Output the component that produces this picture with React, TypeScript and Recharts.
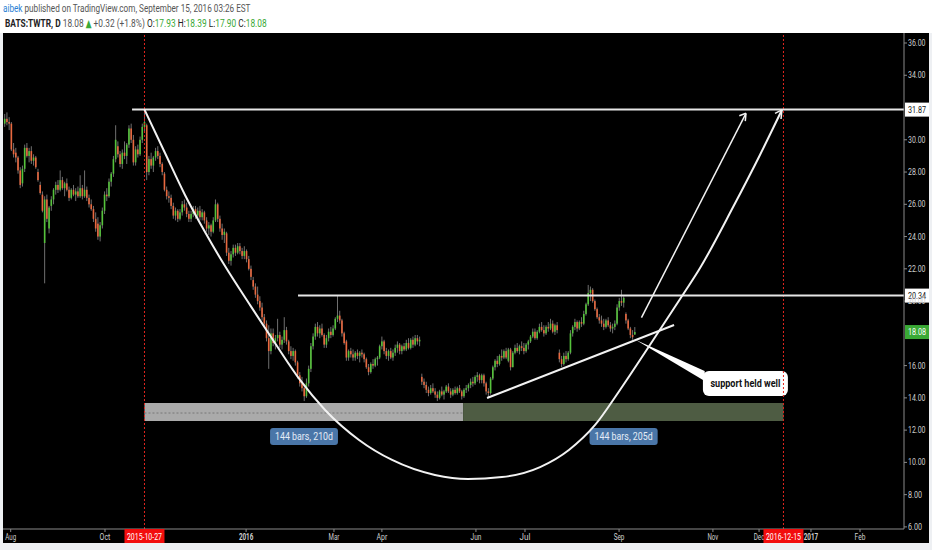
import React, { useLayoutEffect, useRef, useState } from "react";
import {
  ComposedChart,
  Bar,
  Line,
  Area,
  XAxis,
  YAxis,
  ReferenceLine,
  ReferenceArea,
  ReferenceDot,
  Label,
} from "recharts";

const FONT = "Roboto, 'DejaVu Sans Condensed', sans-serif";
const UP = "#55c23b";
const DOWN = "#e8683f";
const WICK = "#8c8c8c";
const GREEN = "#3aa935";

// daily candles, [open, high, low, close]
const jul2015 = [
  [31.0, 31.6, 30.8, 31.3], [31.3, 31.7, 30.9, 31.1], [31.1, 31.4, 30.6, 31.0],
];
const aug2015 = [
  [31.0, 31.1, 29.3, 29.4], [29.4, 29.8, 28.9, 29.1], [29.2, 29.5, 28.6, 28.9], [28.9, 29.0, 27.9, 28.1],
  [28.1, 28.3, 27.0, 27.2], [27.3, 28.4, 27.1, 28.2], [28.2, 29.7, 28.0, 29.5], [29.5, 29.8, 28.9, 29.0],
  [29.0, 29.5, 28.6, 29.3], [29.3, 29.6, 28.5, 28.7], [28.7, 29.1, 28.4, 28.9], [28.9, 29.0, 28.2, 28.3],
  [28.0, 28.2, 27.4, 27.5], [27.2, 27.4, 26.6, 26.7], [26.6, 26.8, 25.5, 25.6], [23.6, 26.5, 21.1, 26.3],
  [26.3, 26.6, 24.9, 25.1], [24.5, 25.9, 24.2, 25.8], [25.9, 26.5, 25.6, 26.3], [26.3, 27.0, 26.0, 26.9],
  [26.9, 27.4, 26.6, 27.2],
];
const sep2015 = [
  [27.2, 27.5, 26.7, 26.9], [26.9, 28.1, 26.8, 27.5], [27.5, 27.7, 26.9, 27.0], [27.0, 27.4, 26.5, 27.3],
  [27.3, 27.6, 26.8, 26.9], [26.9, 27.1, 26.2, 26.4], [26.4, 27.0, 26.3, 26.9], [26.9, 27.2, 26.5, 26.6],
  [26.6, 27.0, 26.2, 26.8], [26.8, 27.1, 26.4, 26.5], [26.5, 27.8, 26.4, 27.0], [27.0, 27.2, 26.3, 26.5],
  [26.5, 28.1, 26.4, 26.9], [26.9, 27.1, 26.2, 26.4], [26.4, 26.6, 25.8, 26.0], [26.0, 26.3, 25.6, 25.7],
  [25.7, 25.9, 24.9, 25.1], [25.1, 25.5, 24.3, 24.5], [24.8, 25.2, 23.8, 24.0], [24.0, 24.9, 23.7, 24.7],
  [24.7, 25.8, 24.5, 25.6],
];
const oct2015 = [
  [25.6, 26.8, 25.4, 26.6], [26.6, 27.0, 26.2, 26.5], [26.5, 27.6, 26.4, 27.4], [27.4, 28.0, 27.1, 27.9],
  [27.9, 29.0, 27.7, 28.8], [28.8, 30.9, 28.6, 30.0], [29.6, 29.9, 28.9, 29.1], [29.1, 29.3, 28.3, 28.5],
  [28.5, 29.4, 28.2, 29.2], [29.2, 29.9, 28.8, 29.0], [29.0, 29.8, 28.5, 29.7], [29.7, 30.9, 29.5, 30.7],
  [30.7, 31.0, 29.8, 30.0], [30.0, 30.3, 28.4, 28.6], [28.6, 29.6, 28.4, 29.4], [29.4, 29.7, 28.9, 29.1],
  [29.1, 30.2, 29.0, 30.0], [30.0, 31.0, 29.8, 30.8], [30.8, 31.87, 30.5, 31.1], [30.9, 31.0, 27.5, 28.0],
  [28.0, 29.0, 27.8, 28.8], [28.8, 29.2, 28.2, 28.4],
];
const nov2015 = [
  [28.4, 29.0, 28.0, 28.9], [28.9, 29.5, 28.7, 29.3], [29.3, 29.6, 28.8, 29.0], [29.0, 29.2, 28.3, 28.5],
  [28.5, 28.6, 27.8, 28.0], [27.9, 28.0, 26.8, 26.9], [26.9, 27.1, 26.3, 26.5], [26.5, 26.8, 26.1, 26.4],
  [26.4, 26.6, 25.7, 25.9], [25.9, 26.1, 25.1, 25.3], [25.3, 25.8, 25.0, 25.6], [25.6, 25.7, 24.9, 25.1],
  [25.1, 25.7, 25.0, 25.5], [25.5, 26.2, 25.3, 26.0], [26.0, 26.3, 25.6, 25.8], [25.8, 26.1, 25.2, 25.4],
  [25.4, 25.6, 24.9, 25.1], [25.1, 25.6, 24.9, 25.4], [25.4, 25.9, 25.2, 25.7], [25.7, 25.9, 25.1, 25.3],
];
const dec2015 = [
  [25.3, 25.8, 25.1, 25.6], [25.6, 25.9, 25.0, 25.2], [25.2, 25.7, 25.0, 25.5], [25.5, 25.6, 24.8, 25.0],
  [25.0, 25.2, 24.3, 24.5], [24.5, 24.9, 24.1, 24.7], [24.7, 24.8, 24.0, 24.3], [24.3, 25.2, 24.2, 25.0],
  [25.0, 26.3, 24.9, 26.0], [26.0, 26.1, 24.9, 25.1], [25.1, 25.3, 24.3, 24.5], [24.5, 24.8, 23.8, 24.1],
  [24.1, 24.5, 23.6, 24.3], [24.2, 24.3, 22.8, 23.0], [23.0, 23.3, 22.3, 22.5], [22.5, 23.1, 22.2, 22.9],
  [22.9, 23.5, 22.7, 23.3], [23.3, 23.5, 22.8, 23.0], [23.0, 23.6, 22.9, 23.4], [23.4, 23.6, 22.9, 23.1],
  [23.1, 23.3, 22.6, 22.8], [22.8, 23.4, 22.6, 23.1],
];
const jan2016 = [
  [23.1, 23.2, 22.4, 22.6], [22.6, 22.8, 21.9, 22.0], [22.0, 22.2, 21.3, 21.5], [21.3, 21.5, 20.7, 20.9],
  [20.9, 21.1, 20.2, 20.4], [20.4, 20.9, 19.8, 20.0], [20.0, 20.3, 19.4, 19.6], [19.6, 19.9, 18.8, 19.0],
  [19.0, 19.2, 18.4, 18.6], [18.6, 18.8, 17.5, 17.7], [17.7, 18.5, 15.8, 16.9], [16.9, 18.3, 16.7, 18.0],
  [18.0, 18.3, 17.2, 17.4], [17.4, 17.9, 17.0, 17.7], [17.7, 18.9, 17.5, 17.9], [17.9, 18.1, 17.1, 17.3],
  [17.3, 17.8, 17.0, 17.6], [17.6, 19.0, 17.4, 18.2], [18.2, 18.4, 17.3, 17.5],
];
const feb2016 = [
  [17.5, 17.6, 16.7, 16.9], [16.9, 17.2, 16.4, 16.6], [16.6, 17.1, 16.3, 16.9], [16.9, 17.0, 16.0, 16.2],
  [16.2, 16.3, 15.2, 15.4], [15.4, 15.6, 14.7, 14.9], [14.9, 15.3, 14.4, 14.6], [14.6, 14.8, 13.8, 14.1],
  [14.1, 15.2, 14.0, 14.9], [14.9, 16.0, 14.7, 15.8], [15.8, 17.4, 15.6, 17.2], [17.2, 18.0, 17.0, 17.8],
  [17.8, 18.6, 17.6, 18.4], [18.4, 18.7, 17.8, 18.0], [18.0, 18.5, 17.7, 18.3], [18.3, 18.6, 17.8, 17.9],
  [17.9, 18.0, 17.1, 17.3], [17.3, 17.9, 17.1, 17.7], [17.7, 18.3, 17.5, 18.1], [18.1, 18.4, 17.7, 17.9],
];
const mar2016 = [
  [17.9, 18.5, 17.8, 18.3], [18.3, 19.0, 18.2, 18.9], [18.9, 20.34, 18.7, 19.1], [19.1, 19.4, 18.6, 18.8],
  [18.8, 18.9, 17.8, 18.0], [18.0, 18.1, 17.3, 17.4], [17.5, 17.6, 16.3, 16.5], [16.5, 17.0, 16.3, 16.9],
  [16.9, 17.1, 16.5, 16.7], [16.7, 17.0, 16.3, 16.5], [16.5, 16.9, 16.3, 16.8], [16.8, 17.0, 16.4, 16.6],
  [16.6, 16.9, 16.2, 16.8], [16.8, 17.0, 16.5, 16.7], [16.7, 16.8, 16.2, 16.4], [16.4, 16.5, 15.8, 15.9],
  [15.9, 16.1, 15.4, 15.6], [15.6, 16.2, 15.5, 16.1], [16.1, 16.4, 15.8, 16.0], [16.0, 16.5, 15.9, 16.4],
  [16.4, 16.6, 16.0, 16.5],
];
const apr2016 = [
  [16.5, 17.3, 16.4, 17.2], [17.2, 17.8, 17.0, 17.5], [17.5, 17.6, 16.7, 16.9], [16.9, 17.1, 16.4, 16.6],
  [16.6, 17.0, 16.3, 16.9], [16.9, 17.1, 16.4, 16.5], [16.5, 17.0, 16.3, 16.8], [16.8, 17.3, 16.6, 17.1],
  [17.1, 17.5, 16.8, 17.3], [17.3, 17.4, 16.7, 16.9], [16.9, 17.3, 16.7, 17.2], [17.2, 17.4, 16.9, 17.0],
  [17.0, 17.6, 16.9, 17.4], [17.4, 17.7, 17.0, 17.1], [17.1, 17.7, 17.0, 17.6], [17.6, 17.8, 17.1, 17.3],
  [17.3, 17.9, 17.2, 17.7], [17.7, 17.9, 17.3, 17.5], [17.5, 17.8, 17.2, 17.6], [15.3, 15.5, 14.8, 15.0],
  [15.0, 15.2, 14.6, 14.8],
];
const may2016 = [
  [14.8, 15.0, 14.3, 14.5], [14.5, 14.7, 14.1, 14.3], [14.3, 14.8, 14.2, 14.6], [14.6, 14.9, 14.3, 14.4],
  [14.4, 14.6, 14.0, 14.2], [14.2, 14.4, 13.8, 14.0], [14.0, 14.5, 13.9, 14.4], [14.4, 14.7, 14.1, 14.2],
  [14.2, 14.5, 13.9, 14.4], [14.4, 14.8, 14.3, 14.7], [14.7, 14.9, 14.3, 14.4], [14.4, 14.6, 14.0, 14.2],
  [14.2, 14.6, 14.1, 14.5], [14.5, 14.7, 14.2, 14.3], [14.3, 14.7, 14.2, 14.6], [14.6, 14.8, 14.3, 14.4],
  [14.4, 14.5, 13.9, 14.1], [14.1, 14.6, 14.0, 14.5], [14.5, 14.8, 14.3, 14.6], [14.6, 14.9, 14.4, 14.8],
  [14.8, 15.2, 14.6, 15.0],
];
const jun2016 = [
  [15.0, 15.3, 14.7, 14.9], [14.9, 15.4, 14.8, 15.3], [15.3, 15.6, 15.0, 15.4], [15.4, 15.5, 14.9, 15.1],
  [15.1, 15.5, 14.9, 15.4], [15.4, 15.5, 14.7, 14.9], [14.9, 15.0, 14.2, 14.4], [14.4, 14.6, 14.0, 14.3],
  [14.3, 15.3, 14.2, 15.2], [15.2, 16.0, 15.1, 15.9], [15.9, 16.4, 15.7, 16.3], [16.3, 16.6, 15.9, 16.1],
  [16.1, 16.7, 16.0, 16.6], [16.6, 17.0, 16.3, 16.5], [16.5, 17.0, 16.4, 16.9], [16.9, 17.1, 16.4, 16.5],
  [16.3, 17.1, 16.2, 17.0], [17.0, 17.1, 15.7, 15.9], [15.9, 16.9, 15.9, 16.8], [16.8, 17.3, 16.7, 17.1],
  [17.1, 17.4, 16.8, 16.9], [16.9, 17.3, 16.7, 17.2],
];
const jul2016 = [
  [17.2, 17.5, 16.9, 17.1], [17.1, 17.4, 16.7, 16.9], [16.9, 17.4, 16.8, 17.3], [17.3, 17.6, 17.0, 17.5],
  [17.5, 17.9, 17.4, 17.8], [17.8, 18.3, 17.7, 18.1], [18.1, 18.3, 17.6, 17.7], [17.7, 18.2, 17.6, 18.1],
  [18.1, 18.6, 18.0, 18.4], [18.4, 18.7, 18.1, 18.2], [18.2, 18.5, 17.8, 18.0], [18.0, 18.5, 17.9, 18.4],
  [18.4, 18.7, 18.1, 18.3], [18.3, 18.9, 18.2, 18.6], [18.6, 18.8, 18.0, 18.1], [18.1, 18.6, 17.9, 18.5],
  [18.5, 18.7, 18.0, 18.2], [16.8, 17.0, 16.2, 16.4], [16.4, 16.6, 15.9, 16.1], [16.1, 16.8, 16.0, 16.6],
];
const aug2016 = [
  [16.6, 16.9, 16.2, 16.4], [16.4, 16.9, 16.3, 16.8], [16.8, 18.2, 16.7, 18.0], [18.0, 18.5, 17.8, 18.4],
  [18.4, 18.9, 18.2, 18.7], [18.7, 18.8, 18.1, 18.3], [18.3, 18.8, 18.2, 18.7], [18.7, 19.0, 18.4, 18.6],
  [18.6, 19.4, 18.5, 19.2], [19.2, 19.9, 19.1, 19.8], [19.8, 21.0, 19.7, 20.5], [20.5, 20.9, 20.0, 20.7],
  [20.7, 20.8, 19.9, 20.0], [20.0, 20.1, 19.4, 19.5], [19.5, 19.6, 18.9, 19.0], [19.0, 19.2, 18.6, 18.8],
  [18.8, 19.1, 18.4, 18.6], [18.6, 18.9, 18.2, 18.4], [18.4, 18.9, 18.3, 18.8], [18.8, 19.0, 18.4, 18.5],
  [18.5, 18.7, 18.1, 18.3], [18.3, 18.6, 18.0, 18.4], [18.4, 18.8, 18.2, 18.6],
];
const sep2016 = [
  [18.6, 19.8, 18.5, 19.6], [19.6, 20.2, 19.4, 20.0], [20.0, 20.7, 19.7, 19.9], [19.9, 20.3, 19.6, 20.2],
  [19.2, 19.3, 18.6, 18.8], [18.8, 18.9, 18.2, 18.3], [18.3, 18.4, 17.7, 17.9], [17.9, 18.2, 17.6, 17.76],
  [17.93, 18.39, 17.9, 18.08],
];

const candles = [
  ...jul2015, ...aug2015, ...sep2015, ...oct2015, ...nov2015, ...dec2015,
  ...jan2016, ...feb2016, ...mar2016, ...apr2016, ...may2016, ...jun2016,
  ...jul2016, ...aug2016, ...sep2016,
].map(([o, h, l, c], i) => ({ i, o, h, l, c, range: [l, h] }));

// x axis is in bar index, future bars included
const X_DOMAIN = [-0.77, 405.33];
const Y_DOMAIN = [5.87, 36.62];

const monthTicks = [2.7, 45.2, 108.8, 148.4, 170, 212.4, 234.5, 276.9, 319.2, 340, 363.4, 385.5];
const monthLabels = ["Aug", "Oct", "2016", "Mar", "Apr", "Jun", "Jul", "Sep", "Nov", "Dec", "2017", "Feb"];
const markedBars = [63, 351];
const markedLabels = ["2015-10-27", "2016-12-15"];
// 18 and 32 sit under the price tags
const priceTicks = [6, 8, 10, 12, 14, 16, 20, 22, 24, 26, 28, 30, 34, 36];

const resistance = 31.87;
const neckline = 20.34;
const lastClose = 18.08;

// hand-drawn cup as (bar, price)
const cup = [
  { i: 63, p: 31.87 }, { i: 72.25, p: 29.18 }, { i: 81.26, p: 26.58 }, { i: 90.28, p: 24.28 },
  { i: 99.29, p: 22.17 }, { i: 110.6, p: 19.75 }, { i: 121.8, p: 17.4 }, { i: 133.1, p: 15.11 },
  { i: 144.4, p: 13.25 }, { i: 159.7, p: 11.39 }, { i: 174.6, p: 10.15 }, { i: 193.9, p: 9.22 },
  { i: 208.8, p: 8.97 }, { i: 224.1, p: 9.09 }, { i: 241.3, p: 9.71 }, { i: 254.3, p: 10.77 },
  { i: 266.1, p: 12.32 }, { i: 277.3, p: 14.49 }, { i: 290.8, p: 17.28 }, { i: 304.4, p: 20.13 },
  { i: 313.4, p: 22.05 }, { i: 328.3, p: 25.83 }, { i: 340.4, p: 29.06 }, { i: 350.3, p: 31.85 },
];
const supportLine = [{ x: 217.4, y: 13.99 }, { x: 301.7, y: 18.52 }];
const arrowUp = [{ x: 287, y: 18.97 }, { x: 334.1, y: 31.64 }];
const arrowHeads = [
  [{ x: 334.1, y: 31.64 }, { x: 331.1, y: 31.49 }],
  [{ x: 334.1, y: 31.64 }, { x: 333.8, y: 31.16 }],
  [{ x: 350.3, y: 31.85 }, { x: 347.2, y: 31.64 }],
  [{ x: 350.3, y: 31.85 }, { x: 349.9, y: 31.29 }],
];
const pointer = [
  { i: 284.5, r: [17.59, 17.59] },
  { i: 315.5, r: [15.05, 15.67] },
];
const rangeBox = { from: 63, mid: 206.6, to: 351, low: 12.57, high: 13.68, center: 13.06 };

// header pieces: text, colour, weight
const headerLine1 = [
  ["aibek", "#2a7fd4", 400],
  [" published on TradingView.com, September 15, 2016 03:26 EST", "#555", 400],
];
const headerLine2 = [
  ["BATS:TWTR, D", "#222", 700],
  [" 18.08 ", "#555", 400],
  ["▲", GREEN, 400],
  [" +0.32 (+1.8%) ", "#555", 400],
  ["O:", "#222", 400],
  ["17.93 ", GREEN, 400],
  ["H:", "#222", 400],
  ["18.39 ", GREEN, 400],
  ["L:", "#222", 400],
  ["17.90 ", GREEN, 400],
  ["C:", "#222", 400],
  ["18.08", GREEN, 400],
];

function Candle(props: any) {
  const { x, y, width, height, payload } = props;
  if (!payload || y == null || height == null) return null;
  const top = Math.min(y, y + height);
  const h = Math.abs(height);
  const span = payload.h - payload.l || 1;
  const py = (v: number) => top + ((payload.h - v) / span) * h;
  const cx = x + (width || 0) / 2;
  const up = payload.c >= payload.o;
  const bodyTop = py(Math.max(payload.o, payload.c));
  const bodyH = Math.max(py(Math.min(payload.o, payload.c)) - bodyTop, 1);
  return (
    <g>
      <line x1={cx} x2={cx} y1={top} y2={top + h} stroke={WICK} strokeWidth={0.8} />
      <rect x={cx - 0.8} y={bodyTop} width={1.6} height={bodyH} fill={up ? UP : DOWN} />
    </g>
  );
}

// narrow text: the original uses a condensed face
function Narrow({ x, y, text, width, anchor = "start", fill, size = 9, weight = 400 }: any) {
  return (
    <text
      x={x}
      y={y}
      textAnchor={anchor}
      fill={fill}
      fontSize={size}
      fontWeight={weight}
      fontFamily={FONT}
      textLength={width}
      lengthAdjust="spacingAndGlyphs"
    >
      {text}
    </text>
  );
}

// one header line squeezed horizontally to the width it has in the original
function FitLine({ x, y, width, parts }: any) {
  const ref = useRef<SVGTextElement>(null);
  const [sx, setSx] = useState(0.75);
  useLayoutEffect(() => {
    if (ref.current) {
      const w = ref.current.getBBox().width;
      if (w > 0) setSx(width / w);
    }
  }, [width]);
  return (
    <g transform={`translate(${x},${y}) scale(${sx},1)`}>
      <text ref={ref} x={0} y={0} fontSize={11} fontFamily={FONT} xmlSpace="preserve" style={{ whiteSpace: "pre" }}>
        {parts.map(([t, c, fw]: any, k: number) => (
          <tspan key={k} fill={c} fontWeight={fw}>
            {t}
          </tspan>
        ))}
      </text>
    </g>
  );
}

function DateTick(props: any) {
  const { x, y, payload } = props;
  const v = payload.value;
  const m = markedBars.indexOf(v);
  if (m >= 0) {
    return (
      <g>
        <rect x={x - 20} y={y - 3} width={40} height={14} fill="#f20d0d" />
        <Narrow x={x} y={y + 7.5} anchor="middle" fill="#fff" text={markedLabels[m]} width={35} />
      </g>
    );
  }
  const k = monthTicks.indexOf(v);
  const label = k >= 0 ? monthLabels[k] : "";
  return (
    <Narrow
      x={x}
      y={y + 7.5}
      anchor="middle"
      fill="#cfcfcf"
      text={label}
      width={label.length * 3.6}
      weight={label.length === 4 ? 700 : 400}
    />
  );
}

function PriceTick(props: any) {
  const { x, y, payload } = props;
  const t = Number(payload.value).toFixed(2);
  return <Narrow x={x} y={y + 3} fill="#cfcfcf" text={t} width={t.length * 3.5} size={8.5} />;
}

function PriceTag({ bg, fg, text }: { bg: string; fg: string; text: string }) {
  return (props: any) => (
    <g>
      <rect x={props.cx + 1} y={props.cy - 7} width={24} height={14} fill={bg} />
      <Narrow x={props.cx + 4} y={props.cy + 3} fill={fg} text={text} width={18} size={8.5} />
    </g>
  );
}

function roundRect(r: number, fill: string) {
  return (p: any) => (
    <rect x={p.x} y={p.y} width={p.width} height={p.height} rx={r} ry={r} fill={fill} />
  );
}

function boxText(text: string, width: number, fill: string, weight = 400) {
  return (p: any) => {
    const vb = p.viewBox || {};
    return (
      <Narrow
        x={vb.x + vb.width / 2}
        y={vb.y + vb.height / 2 + 4}
        anchor="middle"
        fill={fill}
        text={text}
        width={width}
        size={11}
        weight={weight}
      />
    );
  };
}

function Header() {
  return (
    <svg width={932} height={33} style={{ display: "block", background: "#fff" }}>
      <FitLine x={3} y={12} width={248} parts={headerLine1} />
      <FitLine x={5} y={27} width={262} parts={headerLine2} />
    </svg>
  );
}

export default function App() {
  return (
    <div
      style={{
        position: "absolute",
        top: 0,
        left: 0,
        width: 932,
        height: 550,
        background: "#eef0f3",
      }}
    >
      <Header />
      <div style={{ marginLeft: 3, width: 926, height: 510, background: "#000" }}>
        <ComposedChart
          width={926}
          height={510}
          data={candles}
          margin={{ top: 0, right: 0, bottom: 0, left: 0 }}
        >
          <XAxis
            type="number"
            dataKey="i"
            domain={X_DOMAIN}
            allowDataOverflow
            ticks={[...monthTicks, ...markedBars]}
            interval={0}
            height={14}
            tickSize={3}
            tickMargin={0}
            tick={<DateTick />}
            stroke="#8a8a8a"
            tickLine={{ stroke: "#8a8a8a" }}
          />
          <YAxis
            orientation="right"
            type="number"
            domain={Y_DOMAIN}
            allowDataOverflow
            ticks={priceTicks}
            interval={0}
            width={25}
            tickSize={3}
            tickMargin={1}
            tick={<PriceTick />}
            stroke="#8a8a8a"
          />

          {markedBars.map((b) => (
            <ReferenceLine key={b} x={b} stroke="#e3261f" strokeDasharray="2 2" ifOverflow="visible" />
          ))}

          <ReferenceArea
            x1={rangeBox.from}
            x2={rangeBox.mid}
            y1={rangeBox.low}
            y2={rangeBox.high}
            fill="#aaaaaa"
            fillOpacity={1}
            stroke="none"
            ifOverflow="visible"
          />
          <ReferenceArea
            x1={rangeBox.mid}
            x2={rangeBox.to}
            y1={rangeBox.low}
            y2={rangeBox.high}
            fill="#4e5c43"
            fillOpacity={1}
            stroke="none"
            ifOverflow="visible"
          />
          <ReferenceLine
            segment={[{ x: rangeBox.from, y: rangeBox.center }, { x: rangeBox.mid, y: rangeBox.center }]}
            stroke="#777"
            strokeDasharray="2 2"
            ifOverflow="visible"
          />

          <ReferenceLine
            segment={[{ x: 57.4, y: resistance }, { x: X_DOMAIN[1], y: resistance }]}
            stroke="#e6e6e6"
            strokeWidth={2}
            ifOverflow="visible"
          />
          <ReferenceLine
            segment={[{ x: 132.2, y: neckline }, { x: X_DOMAIN[1], y: neckline }]}
            stroke="#e6e6e6"
            strokeWidth={2}
            ifOverflow="visible"
          />

          <Bar dataKey="range" shape={<Candle />} isAnimationActive={false} />

          <Line
            data={cup}
            dataKey="p"
            type="monotone"
            stroke="#f2f2f2"
            strokeWidth={2}
            dot={false}
            activeDot={false}
            isAnimationActive={false}
          />

          <ReferenceLine segment={supportLine} stroke="#f2f2f2" strokeWidth={2} ifOverflow="visible" />
          <ReferenceLine segment={arrowUp} stroke="#f2f2f2" strokeWidth={1.5} ifOverflow="visible" />
          {arrowHeads.map((seg, k) => (
            <ReferenceLine key={k} segment={seg} stroke="#f2f2f2" strokeWidth={1.5} ifOverflow="visible" />
          ))}

          <Area
            data={pointer}
            dataKey="r"
            type="linear"
            fill="#ffffff"
            fillOpacity={1}
            stroke="none"
            dot={false}
            activeDot={false}
            isAnimationActive={false}
          />
          <ReferenceArea
            x1={314.7}
            x2={353}
            y1={14.12}
            y2={15.67}
            shape={roundRect(6, "#ffffff")}
            ifOverflow="visible"
            label={<Label content={boxText("support held well", 70, "#111", 700)} />}
          />

          <ReferenceArea
            x1={119.6}
            x2={150.2}
            y1={11.08}
            y2={12.13}
            shape={roundRect(3, "#4a76a8")}
            ifOverflow="visible"
            label={<Label content={boxText("144 bars, 210d", 58, "#e4ecf6")} />}
          />
          <ReferenceArea
            x1={263.6}
            x2={294.3}
            y1={11.08}
            y2={12.13}
            shape={roundRect(3, "#4a76a8")}
            ifOverflow="visible"
            label={<Label content={boxText("144 bars, 205d", 58, "#e4ecf6")} />}
          />

          <ReferenceDot
            x={X_DOMAIN[1]}
            y={resistance}
            r={0}
            ifOverflow="visible"
            shape={PriceTag({ bg: "#ffffff", fg: "#111", text: resistance.toFixed(2) })}
          />
          <ReferenceDot
            x={X_DOMAIN[1]}
            y={neckline}
            r={0}
            ifOverflow="visible"
            shape={PriceTag({ bg: "#ffffff", fg: "#111", text: neckline.toFixed(2) })}
          />
          <ReferenceDot
            x={X_DOMAIN[1]}
            y={lastClose}
            r={0}
            ifOverflow="visible"
            shape={PriceTag({ bg: GREEN, fg: "#ffffff", text: lastClose.toFixed(2) })}
          />
        </ComposedChart>
      </div>
    </div>
  );
}
